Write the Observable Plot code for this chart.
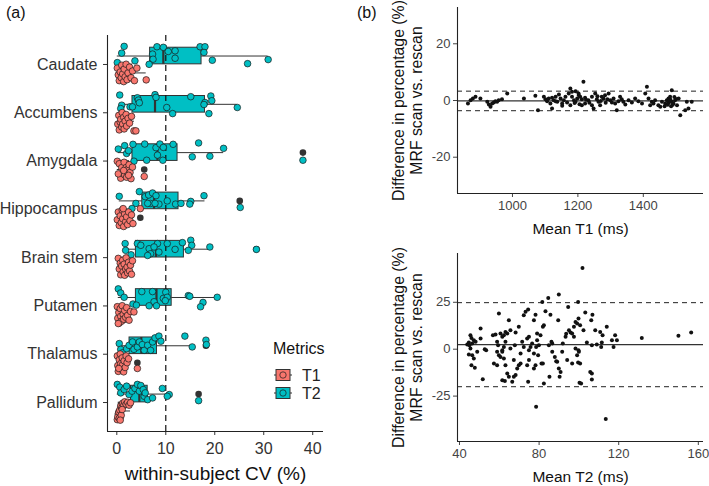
<!DOCTYPE html>
<html><head><meta charset="utf-8">
<script src="https://cdn.jsdelivr.net/npm/d3@7"></script>
<script src="https://cdn.jsdelivr.net/npm/@observablehq/plot@0.6"></script>
<style>
body{margin:0;background:#fff;font-family:"Liberation Sans",Arial,sans-serif;}
#root{position:relative;width:709px;height:486px;overflow:hidden;background:#fff}
#root > svg, #root > div{position:absolute}
.tag{font-size:16px;color:#111}
</style></head><body><div id="root"></div>
<script>
// ---------------- data ----------------
const regions = ["Caudate","Accumbens","Amygdala","Hippocampus","Brain stem","Putamen","Thalamus","Pallidum"];
const metrics = ["T1","T2"];
const metricColors = ["#F8766D","#00BFC4"];
const cvTicks = [0,10,20,30,40];
const cvRef = 10;

// box statistics (within-subject CV %), per region
const t2Q1  = [6.8, 3.2, 3.2, 5.2, 3.9, 3.9, 2.6, 2.9];
const t2Med = [9.5, 7.8, 8.3, 7.6, 8.0, 8.1, 5.0, 4.6];
const t2Q3  = [17.3, 18.0, 12.4, 12.6, 13.7, 11.2, 8.2, 6.3];
const t2Lo  = [0.1, 0.6, 0.3, 0.5, 1.7, 0.3, 0.5, 0.1];
const t2Hi  = [30.9, 24.6, 21.8, 18.0, 19.0, 20.5, 15.4, 10.7];
const t2Outliers = [[2,38.0],[3,25.1],[4,28.5],[6,18.2],[7,16.7]];

const t1Q1  = [0.8, 0.7, 0.9, 0.8, 0.9, 0.5, 0.6, 0.4];
const t1Med = [1.6, 1.2, 1.7, 1.4, 1.6, 1.1, 1.0, 0.8];
const t1Q3  = [3.1, 2.0, 2.5, 2.3, 2.3, 1.9, 1.9, 1.4];
const t1Lo  = [0.1, 0.2, 0.1, 0.1, 0.3, 0.1, 0.1, 0.1];
const t1Hi  = [6.0, 3.6, 3.2, 3.3, 3.2, 3.5, 2.4, 2.8];
const t1Outliers = [[2,5.6],[3,4.8],[6,4.2]];

// individual subjects: [CV %, jitter (-1..1)]
const cvT2 = [
 [[1.5,-1.0],[1.0,-0.3],[8.2,-0.96],[9.5,-0.9],[10.5,-0.47],[11.9,-0.54],[17.0,-0.96],[18.0,-0.96],[17.8,-0.37],[7.3,-0.2],[7.4,0.33],[6.6,0.86],[0.1,0.68],[3.7,0.5],[11.9,0.23],[19.5,0.44],[26.7,0.79],[30.9,0.37]],
 [[0.6,-0.96],[4.2,-0.68],[4.4,-0.44],[4.6,-0.16],[7.8,-1.0],[8.0,-0.72],[15.1,-0.79],[19.2,-0.86],[19.4,-0.37],[18.0,-0.19],[17.8,0.02],[24.6,0.33],[10.2,0.33],[11.4,0.96],[18.8,0.96],[1.0,0.09],[0.8,0.44],[2.7,0.26],[3.2,0.26]],
 [[0.3,-0.37],[1.6,-0.72],[2.0,0.09],[3.3,-0.86],[3.5,0.89],[5.7,-0.89],[6.1,0.79],[8.0,-0.51],[8.3,0.26],[8.8,-0.89],[9.4,0.79],[9.5,-0.54],[11.5,-0.86],[15.4,0.44],[16.7,-1.0],[19.0,0.37],[21.8,-0.44],[38.0,0.79],[2.4,-0.2]],
 [[0.5,-0.47],[4.6,-0.96],[5.8,-0.44],[6.5,-0.61],[7.3,-0.82],[8.0,-0.54],[6.9,0.26],[8.6,0.33],[10.3,0.0],[12.0,0.33],[13.1,0.26],[15.1,0.05],[14.9,0.33],[17.8,-0.54],[3.9,0.26],[3.1,0.79],[6.3,0.26],[7.8,0.26],[25.2,0.68]],
 [[1.7,-0.58],[1.8,0.12],[2.9,0.58],[4.2,-0.58],[4.9,-0.4],[6.6,-0.05],[6.9,0.47],[6.3,0.65],[8.3,-0.58],[8.6,0.3],[10.3,-0.58],[11.9,0.02],[13.4,-0.68],[15.1,-0.93],[15.3,-0.4],[14.6,0.12],[19.0,-0.23],[28.5,0.02],[7.6,-0.23]],
 [[0.3,-0.89],[0.8,-0.47],[1.5,-0.02],[3.3,0.68],[4.0,0.79],[5.1,-0.61],[7.3,-0.61],[7.6,0.44],[8.1,0.86],[6.6,0.86],[9.5,0.09],[10.0,-0.54],[10.3,-0.02],[9.9,0.33],[14.6,-0.19],[14.9,-0.12],[20.5,-0.02],[17.6,0.51],[17.1,0.96]],
 [[0.5,-0.23],[0.8,0.37],[1.2,0.72],[2.0,0.3],[2.5,-0.05],[3.2,-0.4],[3.5,0.37],[4.2,0.12],[4.6,-0.4],[5.2,-0.12],[5.6,0.47],[6.3,-0.05],[6.9,0.47],[7.3,-0.4],[7.8,-0.82],[8.6,-1.0],[9.0,-0.47],[13.9,-1.0],[15.4,0.12],[18.2,-0.58],[18.3,-0.12]],
 [[0.1,-1.0],[0.6,-0.72],[0.8,-0.12],[1.5,-0.47],[2.0,-0.82],[2.5,0.05],[3.1,-0.3],[3.7,-0.58],[4.2,-1.0],[4.6,-0.3],[4.9,-0.89],[5.4,-0.47],[5.6,0.23],[5.8,-0.12],[6.3,0.58],[7.3,0.4],[9.3,-0.58],[10.7,0.05],[10.3,0.23],[16.7,0.68]]
];
const cvT1 = [
 [[0.1,-0.5],[0.3,0.2],[0.5,0.8],[0.7,-0.1],[0.9,0.5],[1.0,-0.8],[1.2,0.1],[1.4,0.9],[1.5,-0.4],[1.7,0.4],[1.9,-0.9],[2.1,0.7],[2.3,0.0],[2.6,-0.6],[2.9,0.5],[3.2,-0.2],[3.6,0.8],[4.1,-0.5],[6.0,0.72]],
 [[0.2,0.3],[0.4,-0.6],[0.5,0.9],[0.7,0.1],[0.8,-0.2],[1.0,0.6],[1.1,-0.9],[1.2,0.3],[1.4,-0.4],[1.5,0.8],[1.7,0.0],[1.9,-0.7],[2.0,0.5],[2.3,-0.3],[2.6,0.2],[3.0,-0.5],[3.5,1.0],[3.9,1.0]],
 [[0.1,-0.85],[0.5,-0.6],[0.8,0.9],[1.0,-0.2],[1.2,0.4],[1.5,-0.75],[1.6,0.55],[1.9,-0.2],[2.0,0.8],[2.2,0.0],[2.5,-0.5],[2.7,0.3],[2.9,0.95],[3.2,-0.25],[0.3,0.45],[1.4,0.1],[2.4,0.6],[5.6,0.72]],
 [[0.1,0.2],[0.3,-0.6],[0.5,0.8],[0.7,-0.2],[0.9,0.5],[1.1,-0.8],[1.2,0.1],[1.4,0.9],[1.6,-0.4],[1.8,0.4],[2.0,-0.1],[2.2,0.7],[2.4,-0.6],[2.7,0.3],[3.0,-0.3],[3.3,0.6],[1.3,-0.95],[4.8,-0.95]],
 [[0.3,-0.8],[0.5,0.3],[0.7,-0.3],[0.8,0.9],[1.0,0.0],[1.2,-0.6],[1.3,0.6],[1.5,-0.2],[1.6,0.95],[1.8,0.3],[1.9,-0.85],[2.1,0.1],[2.2,0.7],[2.4,-0.4],[2.6,0.5],[2.8,-0.1],[3.0,0.85],[3.2,-0.55]],
 [[0.1,-0.8],[0.2,0.4],[0.4,-0.2],[0.5,0.9],[0.7,-0.6],[0.8,0.2],[1.0,0.7],[1.1,-0.9],[1.3,0.0],[1.4,0.5],[1.6,-0.4],[1.8,0.3],[2.0,-0.7],[2.2,0.1],[2.5,0.6],[2.8,-0.3],[3.5,-0.25],[0.3,0.95]],
 [[0.1,-0.7],[0.2,0.3],[0.3,0.9],[0.5,-0.3],[0.6,0.5],[0.7,-0.9],[0.8,0.1],[1.0,0.7],[1.1,-0.5],[1.2,0.2],[1.4,0.95],[1.5,-0.2],[1.7,0.5],[1.9,-0.7],[2.1,0.0],[2.4,-0.4],[0.4,0.6],[4.2,0.6]],
 [[0.1,0.9],[0.3,0.3],[0.2,0.6],[0.4,0.1],[0.5,0.75],[0.6,-0.1],[0.9,0.45],[0.8,-0.5],[1.0,-0.3],[1.2,-0.8],[1.4,-0.55],[1.6,-0.95],[1.9,-0.7],[2.2,-0.9],[2.5,-0.6],[2.8,-0.85],[0.7,0.95],[1.1,-0.15]]
];

// Bland-Altman: [mean, difference %]
const baT1 = [
 [864,-1.06],[872,0.11],[879,0.70],[887,1.29],[902,0.70],[923,-0.47],[928,-1.41],[933,-2.24],[938,-1.06],[943,-0.71],[948,-0.24],[953,-0.47],[958,0.11],[968,0.47],[984,2.47],
 [1035,0.70],[1070,1.64],[1078,-3.41],[1096,1.29],[1101,0.47],[1106,-0.24],[1111,0.70],[1116,-1.06],[1121,-2.82],[1126,0.11],[1132,1.29],[1137,-0.47],[1142,2.12],[1147,0.70],[1152,-1.06],[1157,0.11],[1162,1.29],[1167,-0.71],[1172,2.47],[1177,4.23],[1182,1.29],[1188,0.11],[1193,-0.47],[1198,0.70],[1203,1.88],[1177,-1.65],[1152,-1.88],[1132,-0.24],[1121,0.94],[1182,3.06],[1193,3.29],
 [1217,6.58],[1202,2.47],[1207,1.29],[1212,0.47],[1222,0.94],[1232,0.11],[1243,1.29],[1253,2.47],[1258,0.47],[1263,-0.47],[1268,-1.65],[1273,1.29],[1278,0.70],[1283,1.88],[1294,2.47],[1299,0.11],[1304,-0.71],[1309,0.70],[1314,-1.06],[1319,-3.41],[1324,-0.24],[1329,1.29],[1334,0.47],[1339,-0.47],[1345,-1.41],[1355,0.11],[1365,-0.71],[1375,0.70],[1385,-0.24],[1396,-1.06],[1406,2.47],[1411,4.82],[1416,0.70],[1421,-1.65],[1426,-0.47],[1431,-1.06],[1436,0.11],[1446,-1.65],[1452,-2.24],[1457,-0.47],[1467,-1.06],[1472,0.11],[1477,0.70],[1482,1.29],[1487,-0.47],[1492,-1.06],[1497,0.11],[1503,-1.65],[1487,3.64],[1508,0.70],[1513,-5.18],[1528,-3.41],[1533,-0.47],[1548,-0.47],[1538,-2.82],[1248,-2.82],[1243,-1.65],[1222,-1.06],[1212,-1.65],
 [1478,-0.8],[1483,0.3],[1490,-1.5],[1495,1.2],[1500,0.5],[1485,-2.0],[1475,-1.5],[1465,-2.0],[1190,-0.9],[1205,-1.3],[1225,0.3],[1235,-0.8],[1260,1.5],[1270,-0.2],[1285,-0.8],[1290,0.4]
];
const baT1Bias = -0.15;
const baT1Limits = [3.3, -3.6];

const baT2 = [
 [45.5,7.4],[46.0,6.0],[44.7,3.5],[43.9,2.5],[45.0,2.1],[46.4,3.0],[47.2,4.8],[48.1,3.9],[45.5,0.4],[44.7,-2.8],[46.4,-3.2],[47.2,-5.0],[46.0,-8.5],[47.7,-9.9],[48.9,-1.4],[50.6,11.0],[50.6,5.7],[52.7,0.0],[53.4,-0.5],[51.7,-16.0],
 [56.8,7.4],[58.1,7.8],[58.9,3.9],[59.4,2.1],[59.8,19.0],[58.9,-1.4],[59.8,-3.2],[60.6,-4.1],[61.5,-0.5],[61.5,6.6],[60.6,8.3],[62.3,7.4],[63.1,9.2],[64.0,8.3],[64.8,15.4],[65.6,10.1],[63.1,3.9],[62.3,1.2],[61.5,-1.4],[62.3,-5.0],[63.1,-8.5],[58.9,-8.5],[57.3,-7.6],[61.5,-16.5],[62.8,-17.0],[64.0,-12.9],[64.8,-14.7],[66.5,-17.4],[67.3,-14.7],[68.2,-13.8],[69.0,-10.3],[69.8,-8.5],[70.7,-7.6],[67.3,-5.8],[68.2,8.9],[69.8,11.9],[67.8,2.1],[65.6,0.4],[70.7,-2.3],[71.5,3.9],[72.3,1.2],[72.3,18.1],[73.2,19.9],[74.5,21.1],
 [74.0,5.7],[74.9,6.6],[74.9,-0.5],[75.7,1.2],[76.5,3.0],[78.2,18.4],[77.4,15.4],[79.0,8.3],[79.0,4.8],[78.5,1.2],[79.9,2.1],[80.7,7.4],[81.9,11.9],[82.4,12.8],[79.5,-3.2],[77.4,-2.3],[74.9,-5.8],[74.0,-8.5],[78.2,-8.5],[77.4,-10.3],[81.2,-7.6],[81.9,-7.6],[82.4,-18.3],[81.6,25.2],[84.6,27.3],[83.2,20.2],[85.7,18.4],[84.9,2.1],[86.2,3.9],[86.6,-1.4],[86.6,3.0],[87.9,-4.1],[88.6,-6.4],[89.9,29.1],[89.6,15.4],[89.1,-6.7],[89.9,-10.3],[90.8,-12.1],[91.6,-1.4],[91.9,3.0],[93.3,6.6],[93.6,8.2],[94.6,22.5],[95.0,10.1],[95.8,8.9],[96.6,8.3],[97.5,11.9],[98.3,14.5],[99.1,13.7],[99.6,25.2],[97.5,6.6],[98.3,0.4],[99.1,-3.2],[94.1,-5.8],[96.6,-7.6],[99.6,-7.1],[100.0,-1.4],[100.3,-17.9],[78.5,-30.7],[85.2,-14.7],[90.3,-14.7],[74.5,-17.4],
 [101.8,43.3],[99.8,16.3],[100.6,12.8],[103.2,19.5],[106.8,18.4],[106.2,15.4],[102.3,10.1],[108.2,10.1],[110.7,9.2],[111.9,7.4],[114.0,11.9],[118.2,7.4],[119.1,4.8],[116.6,4.8],[117.4,1.2],[111.5,3.5],[111.2,1.2],[109.0,2.5],[106.5,2.1],[104.0,3.5],[99.8,-0.5],[100.6,-7.6],[105.7,-12.1],[106.5,-12.9],[106.5,-16.1],[101.1,-18.3],[131.6,6.0],[150.0,7.1],[156.4,8.9],[113.5,-37.2]
];
const baT2Bias = 2.4;
const baT2Limits = [24.8, -20.0];

const xTitleA = "within-subject CV (%)";
const yTitleB = "Difference in percentage (%)\nMRF scan vs. rescan";
const xTitleB1 = "Mean T1 (ms)";
const xTitleB2 = "Mean T2 (ms)";

// ---------------- drawing ----------------
const root = document.getElementById("root");
const FONT = "'Liberation Sans', Arial, sans-serif";
const DODGE = 0.175, HALF = 0.172, JIT = 0.2;

const boxes = [
  ...regions.map((r,i)=>({metric:"T2", pos:i-DODGE, q1:t2Q1[i], med:t2Med[i], q3:t2Q3[i], lo:t2Lo[i], hi:t2Hi[i]})),
  ...regions.map((r,i)=>({metric:"T1", pos:i+DODGE, q1:t1Q1[i], med:t1Med[i], q3:t1Q3[i], lo:t1Lo[i], hi:t1Hi[i]}))
];
const outliers = [
  ...t2Outliers.map(([i,v])=>({pos:i-DODGE, v})),
  ...t1Outliers.map(([i,v])=>({pos:i+DODGE, v}))
];
const points = [
  ...cvT2.flatMap((pts,i)=>pts.map(([v,j])=>({metric:"T2", v, y:i-DODGE+j*JIT}))),
  ...cvT1.flatMap((pts,i)=>pts.map(([v,j])=>({metric:"T1", v, y:i+DODGE+j*JIT})))
];

const xDomA = [-1.9, 42.2], yDomA = [7.6, -0.6];
const plotA = Plot.plot({
  width: 340, height: 486, marginLeft: 107, marginRight: 17, marginTop: 35, marginBottom: 55,
  style: {fontFamily: FONT, fontSize: "16px", color: "#333", background: "transparent", overflow: "visible"},
  x: {domain: xDomA, label: null},
  y: {domain: yDomA, label: null},
  color: {domain: metrics, range: metricColors},
  marks: [
    Plot.ruleY(boxes, {y: "pos", x1: "lo", x2: "q1", stroke: "#333", strokeWidth: 1}),
    Plot.ruleY(boxes, {y: "pos", x1: "q3", x2: "hi", stroke: "#333", strokeWidth: 1}),
    Plot.rect(boxes, {x1: "q1", x2: "q3", y1: d => d.pos - HALF, y2: d => d.pos + HALF, fill: "metric", stroke: "#333", strokeWidth: 1}),
    Plot.ruleX(boxes, {x: "med", y1: d => d.pos - HALF, y2: d => d.pos + HALF, stroke: "#333", strokeWidth: 2.2}),
    Plot.dot(outliers, {x: "v", y: "pos", r: 3.3, fill: "#333", stroke: "none"}),
    Plot.ruleX([cvRef], {stroke: "#111", strokeWidth: 1.2, strokeDasharray: "6,4"}),
    Plot.dot(points, {x: "v", y: "y", r: 3.3, fill: "metric", stroke: "#1a1a1a", strokeWidth: 0.7}),
    Plot.axisY({ticks: regions.map((_, i) => i), tickFormat: i => regions[i], tickSize: 4, tickPadding: 6, fontSize: 16, label: null, color: "#333"}),
    Plot.axisX({ticks: cvTicks, tickFormat: d => String(d), tickSize: 4, tickPadding: 7, fontSize: 16, label: null, color: "#333"}),
    Plot.ruleX([xDomA[0]], {stroke: "#222", strokeWidth: 1.1}),
    Plot.ruleY([yDomA[0]], {stroke: "#222", strokeWidth: 1.1}),
    Plot.text([xTitleA], {text: d => d, frameAnchor: "bottom", dy: 42, lineAnchor: "middle", fontSize: 19, fill: "#111"})
  ]
});
plotA.style.left = "0px"; plotA.style.top = "0px";
root.appendChild(plotA);

function baPlot(data, bias, limits, xDom, yDom, xTicks, yTicks, xTitle, h, mTop, mBottom, titleDy) {
  return Plot.plot({
    width: 329, height: h, marginLeft: 77, marginRight: 6, marginTop: mTop, marginBottom: mBottom,
    style: {fontFamily: FONT, fontSize: "13px", color: "#333", background: "transparent", overflow: "visible"},
    x: {domain: xDom, label: null},
    y: {domain: yDom, label: null},
    marks: [
      Plot.ruleY(limits, {stroke: "#222", strokeWidth: 1, strokeDasharray: "5,4"}),
      Plot.ruleY([bias], {stroke: "#333", strokeWidth: 1.3}),
      Plot.dot(data, {x: d => d[0], y: d => d[1], r: 2, fill: "#111", stroke: "none"}),
      Plot.axisX({ticks: xTicks, tickFormat: d => String(d), tickSize: 4, tickPadding: 3, fontSize: 13, label: null, color: "#444"}),
      Plot.axisY({ticks: yTicks, tickFormat: d => String(d), tickSize: 4, tickPadding: 3, fontSize: 13, label: null, color: "#444"}),
      Plot.ruleX([xDom[0]], {stroke: "#222", strokeWidth: 1.1}),
      Plot.ruleY([yDom[0]], {stroke: "#222", strokeWidth: 1.1}),
      Plot.text([xTitle], {text: d => d, frameAnchor: "bottom", dy: titleDy, lineAnchor: "middle", fontSize: 15.5, fill: "#111"}),
      Plot.text([yTitleB], {text: d => d, frameAnchor: "left", dx: -50, rotate: -90, textAnchor: "middle", lineAnchor: "middle", lineHeight: 1.1, fontSize: 15.8, fill: "#111"})
    ]
  });
}
const plotB1 = baPlot(baT1, baT1Bias, baT1Limits, [832, 1584], [-32.8, 32.8], [1000,1200,1400], [-20,0,20], xTitleB1, 240, 7, 47, 36);
plotB1.style.left = "380px"; plotB1.style.top = "0px";
root.appendChild(plotB1);
const plotB2 = baPlot(baT2, baT2Bias, baT2Limits, [39.0, 162.6], [-49.2, 51.0], [40,80,120,160], [-25,0,25], xTitleB2, 246, 13, 45, 36);
plotB2.style.left = "380px"; plotB2.style.top = "240px";
root.appendChild(plotB2);

// panel tags
[["(a)", 6, 4], ["(b)", 357, 4]].forEach(([t, x, y]) => {
  const d = document.createElement("div");
  d.className = "tag"; d.textContent = t;
  d.style.left = x + "px"; d.style.top = y + "px";
  root.appendChild(d);
});

// legend
const leg = d3.create("svg").attr("width", 80).attr("height", 75)
  .style("left", "270px").style("top", "336px").style("font-family", FONT);
leg.append("text").attr("x", 3).attr("y", 12).attr("dy", "0.35em").attr("font-size", 16).attr("fill", "#111").text("Metrics");
metrics.forEach((m, k) => {
  const cy = 39 + k * 18;
  const g = leg.append("g");
  g.append("line").attr("x1", 4).attr("x2", 6).attr("y1", cy).attr("y2", cy).attr("stroke", "#333");
  g.append("line").attr("x1", 20).attr("x2", 22).attr("y1", cy).attr("y2", cy).attr("stroke", "#333");
  g.append("rect").attr("x", 6).attr("y", cy - 5.5).attr("width", 14).attr("height", 11).attr("fill", metricColors[k]).attr("stroke", "#333");
  g.append("circle").attr("cx", 13).attr("cy", cy).attr("r", 3.2).attr("fill", metricColors[k]).attr("stroke", "#1a1a1a").attr("stroke-width", 0.7);
  leg.append("text").attr("x", 32).attr("y", cy).attr("dy", "0.35em").attr("font-size", 16).attr("fill", "#222").text(m);
});
root.appendChild(leg.node());
</script></body></html>
